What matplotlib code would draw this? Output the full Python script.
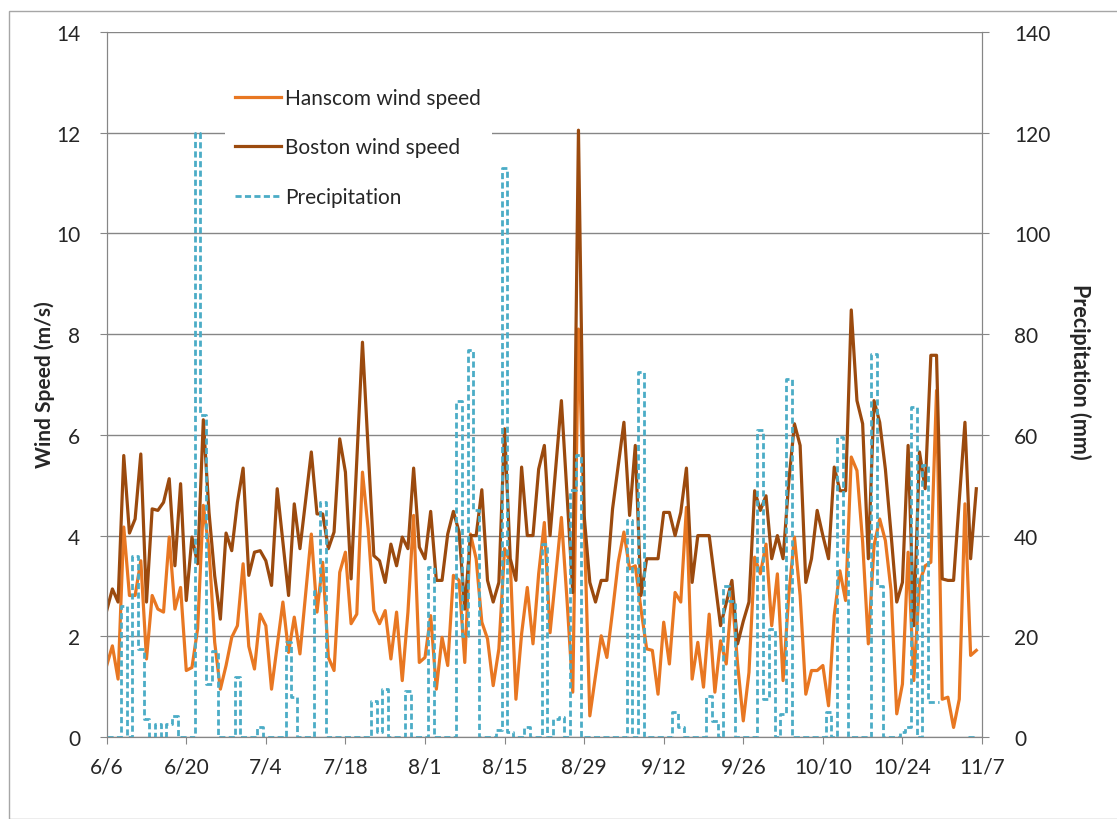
import matplotlib
matplotlib.use("Agg")
import matplotlib.pyplot as plt
from matplotlib.patches import Rectangle
import numpy as np

# daily series starting 6/6
boston = [2.51, 2.94, 2.68, 5.59, 4.05, 4.33, 5.62, 2.68, 4.53, 4.50,
          4.66, 5.13, 3.40, 5.03, 2.71, 3.97, 3.44, 6.30, 4.46, 3.20,
          2.34, 4.05, 3.70, 4.66, 5.34, 3.21, 3.67, 3.70, 3.50, 3.01,
          4.93, 3.87, 2.81, 4.63, 3.74, 4.70, 5.66, 4.43, 4.43, 3.74,
          4.07, 5.92, 5.26, 3.14, 5.49, 7.84, 5.72, 3.60, 3.50, 3.07,
          3.83, 3.40, 3.97, 3.74, 5.34, 3.77, 3.54, 4.48, 3.11, 3.11,
          4.03, 4.48, 4.07, 2.54, 4.00, 4.00, 4.91, 3.11, 2.68, 3.07,
          6.12, 3.54, 3.11, 5.36, 4.00, 4.00, 5.32, 5.79, 4.00, 5.34,
          6.68, 4.80, 2.87, 12.05, 4.40, 3.07, 2.68, 3.11, 3.11, 4.53,
          5.39, 6.25, 4.40, 5.79, 2.81, 3.54, 3.54, 3.54, 4.46, 4.46,
          4.00, 4.46, 5.34, 3.07, 4.00, 4.00, 4.00, 3.10, 2.21, 2.66,
          3.11, 1.85, 2.30, 2.68, 4.89, 4.50, 4.79, 3.54, 4.00, 3.54,
          5.06, 6.22, 5.79, 3.07, 3.54, 4.50, 4.00, 3.54, 5.36, 4.89,
          4.89, 8.48, 6.68, 6.22, 3.54, 6.68, 6.25, 5.32, 4.03, 2.68,
          3.07, 5.79, 2.21, 5.66, 4.93, 7.58, 7.58, 3.14, 3.11, 3.11,
          4.70, 6.25, 3.54, 4.93]

hanscom = [1.42, 1.81, 1.15, 4.17, 2.81, 2.81, 3.50, 1.55, 2.81, 2.54,
           2.48, 3.97, 2.54, 2.97, 1.32, 1.38, 2.15, 4.60, 3.73, 1.88,
           0.95, 1.42, 1.98, 2.21, 3.44, 1.80, 1.35, 2.44, 2.21, 0.95,
           1.81, 2.68, 1.68, 2.38, 1.65, 2.84, 4.03, 2.48, 3.47, 1.58,
           1.32, 3.27, 3.67, 2.25, 2.44, 5.26, 4.13, 2.51, 2.25, 2.51,
           1.55, 2.48, 1.12, 2.48, 4.40, 1.48, 1.58, 2.41, 0.95, 1.98,
           1.42, 3.21, 3.11, 1.48, 4.03, 3.54, 2.28, 1.95, 1.02, 1.75,
           3.74, 3.47, 0.75, 2.05, 2.97, 1.85, 3.24, 4.26, 2.07, 3.20,
           4.36, 2.70, 0.89, 8.10, 4.30, 0.42, 1.22, 2.01, 1.58, 2.50,
           3.47, 4.07, 3.34, 3.40, 2.54, 1.75, 1.72, 0.85, 2.28, 1.45,
           2.87, 2.68, 4.56, 1.15, 1.88, 0.99, 2.44, 0.89, 1.91, 1.45,
           2.87, 1.45, 0.32, 1.28, 3.57, 3.24, 3.83, 2.21, 3.24, 1.12,
           2.81, 3.97, 2.81, 0.85, 1.32, 1.32, 1.42, 0.62, 2.41, 3.30,
           2.71, 5.56, 5.29, 3.87, 1.85, 3.80, 4.33, 3.90, 2.91, 0.46,
           1.05, 3.67, 1.12, 3.07, 3.40, 3.47, 6.88, 0.75, 0.79, 0.19,
           0.75, 4.63, 1.62, 1.72]

nan = float("nan")
precip = [0, 0, 0, 26, 0, 36, 17.5, 3.6, 0, 2.6,
          0, 2.6, 4.2, 0, 0, 0, 120, 64, 10.5, 17,
          0, 0, 0, 12, 0, 0, 0, 1.9, 0, 0,
          0, 0, 18.8, 7.9, 0, 0, 0, 29, 46.6, 0,
          0, 0, 0, 0, 0, 0, 0, 7.2, 1, 9.5,
          0, 0, 0, 9.2, 0, 0, 0, 33.7, 0, 0,
          0, 0, 66.8, 20, 76.8, 45, 0, 0, 0, 1.3,
          113, 1, 0, 0, 2, 0, 0, 38.3, 0, 3.6,
          3.9, 0, 49, 56, 0, 0, 0, 0, 0, 0,
          0, 0, 43, 0, 72.5, 0, 0, 0, 0, 0,
          4.9, 2, 0, 0, 0, 0, 8.2, 3.2, 0, 30,
          27, 0, 0, 0, 0, 61, 7.5, 21.5, 0, 4.6,
          71, 0, 0, 0, 0, 0, 0, 5, 0, 59.5,
          36.7, 0, 0, 0, 0, 76, 30, 0, 0, 0,
          1, 2, 65.5, 0, 54, 7, 7, nan, nan, nan,
          nan, nan, 0, 0]

tick_days = [0, 14, 28, 42, 56, 70, 84, 98, 112, 126, 140, 154]
tick_labels = ["6/6", "6/20", "7/4", "7/18", "8/1", "8/15", "8/29",
               "9/12", "9/26", "10/10", "10/24", "11/7"]

plt.rcParams["font.family"] = ["Lato", "DejaVu Sans"]

W, H = 1117, 820
fig = plt.figure(figsize=(W / 100, H / 100), dpi=100)

# light frame round the chart
fig.patches.append(Rectangle((8.5 / W, 0), 1.2, (H - 12) / H, transform=fig.transFigure,
                             fill=False, edgecolor="#a6a6a6", linewidth=1))

ax = fig.add_axes([106.7 / W, 82 / H, (982 - 106.7) / W, 705 / H])
ax2 = ax.twinx()

days = np.arange(len(boston))
grey = "#868686"
text_col = "#262626"

l1, = ax.plot(days, hanscom, color="#e87722", lw=2.3, label="Hanscom wind speed")
l2, = ax.plot(days, boston, color="#9b4a0e", lw=2.3, label="Boston wind speed")
l3, = ax2.plot(days, precip, color="#4bacc6", lw=2.0, ls=(0, (2.2, 1.2)),
               drawstyle="steps-mid", label="Precipitation")

ax.set_xlim(0, 154)
ax.set_ylim(0, 14)
ax2.set_ylim(0, 140)
ax.set_yticks(range(0, 15, 2))
ax2.set_yticks(range(0, 141, 20))
ax.set_xticks(tick_days)
ax.set_xticklabels(tick_labels)

ax.grid(axis="y", color=grey, lw=1)
ax.set_axisbelow(True)
for a in (ax, ax2):
    for s in a.spines.values():
        s.set_color(grey)
    a.spines["top"].set_visible(False)
    a.tick_params(colors=grey, labelcolor=text_col, labelsize=15, length=5)
ax.tick_params(axis="y", pad=14)
ax.tick_params(axis="x", pad=9)
ax2.tick_params(axis="y", pad=18)

fig.text(45 / W, 1 - 385 / H, "Wind Speed (m/s)", rotation=90, ha="center", va="center",
         fontsize=15, fontweight="bold", color=text_col)
fig.text(1080 / W, 1 - 372 / H, "Precipitation (mm)", rotation=270, ha="center", va="center",
         fontsize=15.5, fontweight="bold", color=text_col)

leg = ax2.legend(handles=[l1, l2, l3], loc="upper left", bbox_to_anchor=(0.135, 0.9355),
                 frameon=True, fancybox=False, edgecolor="none", facecolor="white",
                 framealpha=1, fontsize=15, handlelength=2.2, handletextpad=0.2,
                 labelspacing=1.42, borderpad=0.5, borderaxespad=0)
for t in leg.get_texts():
    t.set_color(text_col)

fig.savefig("out.png", dpi=100)
